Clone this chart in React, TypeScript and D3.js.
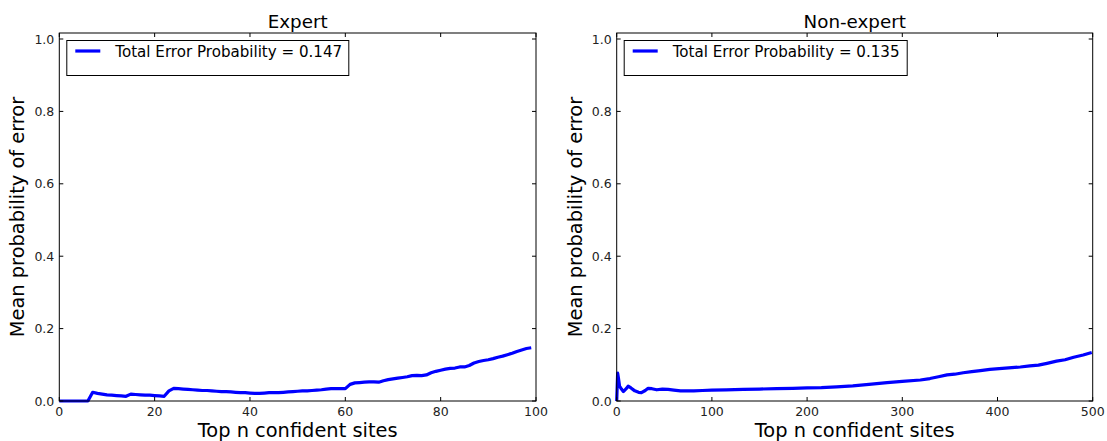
import React from "react";
import * as d3 from "d3";

const expertValues: number[] = [
  0, 0, 0, 0, 0, 0, 0, 0.024, 0.021, 0.019,
  0.017, 0.016, 0.015, 0.014, 0.013, 0.019, 0.018, 0.017, 0.016, 0.016,
  0.015, 0.014, 0.013, 0.028, 0.035, 0.034, 0.033, 0.032, 0.031, 0.030,
  0.029, 0.029, 0.028, 0.027, 0.026, 0.026, 0.025, 0.024, 0.023, 0.023,
  0.022, 0.021, 0.021, 0.022, 0.023, 0.023, 0.023, 0.024, 0.025, 0.026,
  0.027, 0.028, 0.028, 0.029, 0.030, 0.031, 0.033, 0.034, 0.034, 0.034,
  0.034, 0.046, 0.050, 0.051, 0.052, 0.053, 0.053, 0.052, 0.056, 0.059,
  0.061, 0.063, 0.065, 0.067, 0.070, 0.071, 0.070, 0.072, 0.078, 0.082,
  0.085, 0.088, 0.090, 0.091, 0.094, 0.094, 0.098, 0.105, 0.109, 0.112,
  0.114, 0.117, 0.121, 0.124, 0.128, 0.132, 0.137, 0.141, 0.145, 0.147,
];

const nonExpertN: number[] = [
  0, 1, 2, 3, 5, 7, 10, 12, 15, 19, 23, 26, 30, 33, 37, 42, 48, 54, 60, 67,
  75, 81, 90, 100, 115, 133, 150, 168, 185, 200, 215, 231, 248, 265, 284,
  300, 319, 329, 338, 347, 355, 364, 373, 382, 392, 405, 415, 424, 434, 443,
  452, 462, 471, 480, 490, 499,
];
const nonExpertValues: number[] = [
  0.0, 0.077, 0.060, 0.041, 0.033, 0.026, 0.034, 0.041, 0.036, 0.028, 0.024,
  0.023, 0.029, 0.035, 0.034, 0.031, 0.033, 0.032, 0.030, 0.028, 0.028,
  0.028, 0.029, 0.030, 0.031, 0.032, 0.033, 0.034, 0.035, 0.036, 0.037,
  0.039, 0.042, 0.046, 0.051, 0.054, 0.058, 0.062, 0.067, 0.072, 0.074,
  0.078, 0.081, 0.084, 0.0875, 0.090, 0.092, 0.094, 0.097, 0.099, 0.104,
  0.110, 0.114, 0.121, 0.127, 0.134,
];

const expertTicksX: number[] = [0, 20, 40, 60, 80, 100];
const nonExpertTicksX: number[] = [0, 100, 200, 300, 400, 500];
const yTicks: number[] = [0, 0.2, 0.4, 0.6, 0.8, 1.0];

const titles: string[] = ["Expert", "Non-expert"];
const legendLabels: string[] = [
  "Total Error Probability = 0.147",
  "Total Error Probability = 0.135",
];
const xLabel = "Top n confident sites";
const yLabel = "Mean probability of error";

const FONT = "'DejaVu Sans', sans-serif";

type PanelProps = {
  left: number;
  right: number;
  xs: number[];
  ys: number[];
  xMax: number;
  xTicks: number[];
  title: string;
  legend: string;
  legendWidth: number;
};

const TOP = 33;
const BOTTOM = 401;

function Panel({ left, right, xs, ys, xMax, xTicks, title, legend, legendWidth }: PanelProps) {
  const x = d3.scaleLinear().domain([0, xMax]).range([left, right]);
  const y = d3.scaleLinear().domain([0, 1.0166]).range([BOTTOM, TOP]);
  const line = d3
    .line<number>()
    .x((_, i) => x(xs[i]))
    .y((d) => y(d));
  const tl = 4;
  const cx = (left + right) / 2;
  return (
    <g>
      <path d={line(ys) || ""} fill="none" stroke="#0000ff" strokeWidth={3.2} strokeLinejoin="round" />
      <rect x={left} y={TOP} width={right - left} height={BOTTOM - TOP} fill="none" stroke="#000" strokeWidth={1} />
      {xTicks.map((t) => (
        <g key={"x" + t}>
          <line x1={x(t)} x2={x(t)} y1={BOTTOM} y2={BOTTOM - tl} stroke="#000" />
          <line x1={x(t)} x2={x(t)} y1={TOP} y2={TOP + tl} stroke="#000" />
          <text x={x(t)} y={BOTTOM + 15} textAnchor="middle" fontSize={12.5} fontFamily={FONT} fill="#222">
            {t}
          </text>
        </g>
      ))}
      {yTicks.map((t) => (
        <g key={"y" + t}>
          <line x1={left} x2={left + tl} y1={y(t)} y2={y(t)} stroke="#000" />
          <line x1={right} x2={right - tl} y1={y(t)} y2={y(t)} stroke="#000" />
          <text x={left - 5} y={y(t) + 4.5} textAnchor="end" fontSize={12.5} fontFamily={FONT} fill="#222">
            {t.toFixed(1)}
          </text>
        </g>
      ))}
      <text x={cx} y={28} textAnchor="middle" fontSize={18.3} fontFamily={FONT} fill="#000">
        {title}
      </text>
      <text x={cx} y={437} textAnchor="middle" fontSize={19.4} fontFamily={FONT} fill="#000">
        {xLabel}
      </text>
      <text
        transform={`translate(${left - 35},${(TOP + BOTTOM) / 2}) rotate(-90)`}
        textAnchor="middle"
        fontSize={19.4}
        fontFamily={FONT}
        fill="#000"
      >
        {yLabel}
      </text>
      <rect x={left + 7.5} y={40.5} width={legendWidth} height={35} fill="#fff" stroke="#000" strokeWidth={1} />
      <line x1={left + 16} x2={left + 41} y1={51} y2={51} stroke="#0000ff" strokeWidth={3.2} />
      <text x={left + 56} y={56.5} fontSize={15.1} fontFamily={FONT} fill="#000">
        {legend}
      </text>
    </g>
  );
}

export default function App() {
  const expertX = expertValues.map((_, i) => i);
  return (
    <svg width={1107} height={441} style={{ position: "absolute", left: 0, top: 0, background: "#fff" }}>
      <rect width={1107} height={441} fill="#fff" />
      <Panel
        left={59.3}
        right={536}
        xs={expertX}
        ys={expertValues}
        xMax={100}
        xTicks={expertTicksX}
        title={titles[0]}
        legend={legendLabels[0]}
        legendWidth={282}
      />
      <Panel
        left={616.7}
        right={1092.7}
        xs={nonExpertN}
        ys={nonExpertValues}
        xMax={500}
        xTicks={nonExpertTicksX}
        title={titles[1]}
        legend={legendLabels[1]}
        legendWidth={283}
      />
    </svg>
  );
}
